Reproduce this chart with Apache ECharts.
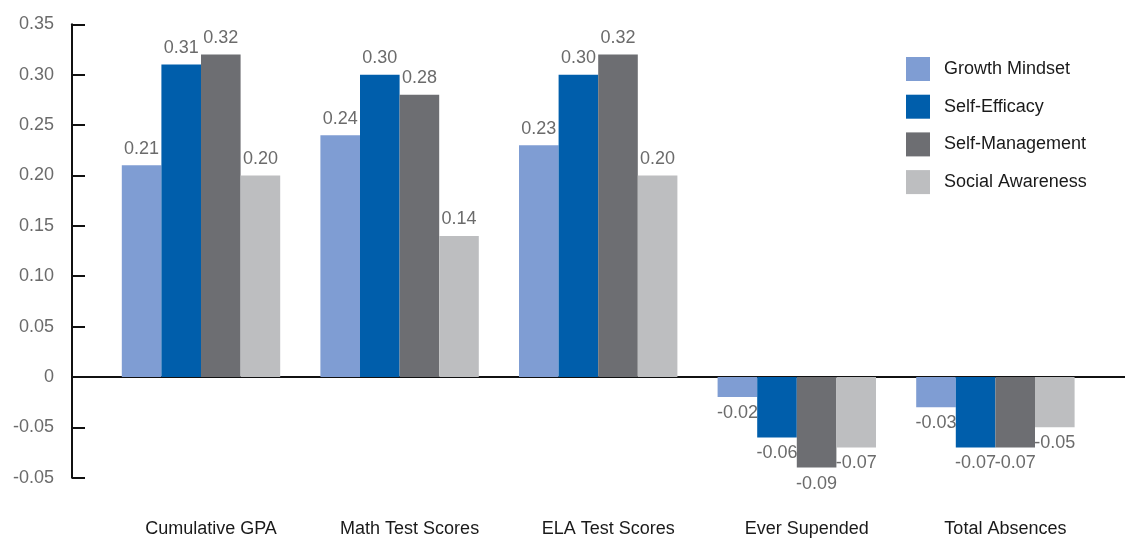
<!DOCTYPE html>
<html>
<head>
<meta charset="utf-8">
<script src="https://cdn.jsdelivr.net/npm/echarts@6/dist/echarts.min.js"></script>
<style>
html,body{margin:0;padding:0;background:#fff;}
#c{width:1125px;height:541px;}
</style>
</head>
<body>
<div id="c"></div>
<script>
const categories = ['Cumulative GPA', 'Math Test Scores', 'ELA Test Scores', 'Ever Supended', 'Total Absences'];
const growthMindset   = [0.21, 0.24, 0.23, -0.02, -0.03];
const selfEfficacy    = [0.31, 0.30, 0.30, -0.06, -0.07];
const selfManagement  = [0.32, 0.28, 0.32, -0.09, -0.07];
const socialAwareness = [0.20, 0.14, 0.20, -0.07, -0.05];
const seriesNames = ['Growth Mindset', 'Self-Efficacy', 'Self-Management', 'Social Awareness'];
const yTickLabels = ['-0.05', '-0.05', '0', '0.05', '0.10', '0.15', '0.20', '0.25', '0.30', '0.35'];

const FONT = "'Liberation Sans', Arial, sans-serif";
const colors = ['#7f9dd3', '#005eab', '#6d6e72', '#bdbec0'];
const TOP = 24.3, BOTTOM = 63.3;

function mk(name, vals, i) {
  return {
    name: name,
    type: 'bar',
    xAxisIndex: 0,
    yAxisIndex: 0,
    barWidth: 39.6,
    barGap: '0%',
    itemStyle: { color: colors[i] },
    data: vals.map(v => ({
      value: v,
      label: { position: v < 0 ? 'bottom' : 'top', distance: v < 0 ? 7 : 7.5 }
    })),
    label: {
      show: true,
      fontFamily: FONT,
      fontSize: 18,
      color: '#6b6b6b',
      formatter: p => p.value.toFixed(2)
    }
  };
}

const chart = echarts.init(document.getElementById('c'), null, { renderer: 'canvas' });
chart.setOption({
  animation: false,
  textStyle: { fontFamily: FONT },
  legend: {
    orient: 'vertical',
    left: 901,
    top: 52,
    itemWidth: 24,
    itemHeight: 24,
    itemGap: 13.7,
    icon: 'rect',
    data: seriesNames,
    textStyle: { fontFamily: FONT, fontSize: 18, color: '#1a1a1a', padding: [0, 0, 0, 9] }
  },
  grid: [
    { left: 101.7, right: 30.3, top: TOP, bottom: BOTTOM },
    { left: 72, right: 0, top: TOP, bottom: BOTTOM }
  ],
  xAxis: [
    {
      type: 'category',
      gridIndex: 0,
      data: categories,
      position: 'bottom',
      axisLine: { show: false, onZero: false },
      axisTick: { show: false },
      axisLabel: { interval: 0, fontFamily: FONT, fontSize: 18, color: '#1a1a1a', margin: 42, padding: [0, 0, 0, 20] }
    },
    {
      type: 'value',
      gridIndex: 1,
      min: 0,
      max: 1,
      axisLine: { show: true, onZero: true, lineStyle: { color: '#111', width: 2 } },
      axisTick: { show: false },
      axisLabel: { show: false },
      splitLine: { show: false }
    }
  ],
  yAxis: [
    {
      type: 'value',
      gridIndex: 0,
      min: -0.1,
      max: 0.35,
      interval: 0.05,
      show: false,
      splitLine: { show: false }
    },
    {
      type: 'value',
      gridIndex: 1,
      min: -0.1,
      max: 0.35,
      interval: 0.05,
      axisLine: { show: true, lineStyle: { color: '#111', width: 2 } },
      axisTick: { show: true, inside: true, length: 13, lineStyle: { color: '#111', width: 2 } },
      splitLine: { show: false },
      axisLabel: {
        fontFamily: FONT,
        fontSize: 18,
        color: '#6b6b6b',
        margin: 18,
        formatter: v => yTickLabels[Math.round((v + 0.1) / 0.05)]
      }
    }
  ],
  series: [
    mk(seriesNames[0], growthMindset, 0),
    mk(seriesNames[1], selfEfficacy, 1),
    mk(seriesNames[2], selfManagement, 2),
    mk(seriesNames[3], socialAwareness, 3)
  ]
});
</script>
</body>
</html>
